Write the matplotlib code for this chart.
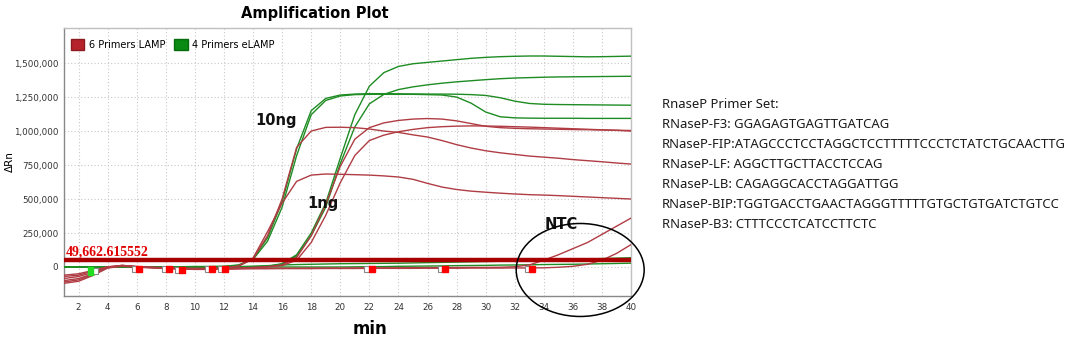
import numpy as np
import matplotlib
matplotlib.use("Agg")
import matplotlib.pyplot as plt
from matplotlib.patches import Patch, Ellipse, Rectangle

# ---------------- data ----------------
minutes = list(range(1, 41))

# 4 Primers eLAMP (green), values in thousands of ΔRn
g_10ng_a = [0, 0, 0, 0, 2, 2, 2, 2, 2, 3, 3, 5, 15, 60, 215, 480, 870, 1150, 1240, 1265,
            1272, 1275, 1275, 1274, 1273, 1272, 1272, 1271, 1268, 1262, 1245, 1220, 1203, 1197, 1195, 1194, 1193, 1192, 1191, 1190]
g_10ng_b = [0, 0, 0, 0, 2, 2, 2, 2, 2, 3, 3, 4, 12, 55, 190, 440, 820, 1120, 1225, 1258,
            1268, 1270, 1270, 1270, 1270, 1268, 1265, 1250, 1205, 1140, 1105, 1097, 1095, 1094, 1094, 1094, 1093, 1093, 1093, 1093]
g_1ng_a = [0, 0, 0, 0, 1, 1, 1, 1, 1, 2, 2, 2, 2, 3, 5, 25, 90, 250, 470, 800,
           1120, 1330, 1430, 1475, 1495, 1505, 1515, 1525, 1535, 1542, 1547, 1550, 1552, 1552, 1550, 1548, 1546, 1547, 1549, 1551]
g_1ng_b = [0, 0, 0, 0, 1, 1, 1, 1, 1, 2, 2, 2, 2, 3, 5, 20, 80, 230, 440, 760,
           1030, 1200, 1270, 1305, 1325, 1340, 1352, 1362, 1370, 1378, 1385, 1390, 1393, 1396, 1398, 1399, 1400, 1401, 1402, 1403]
g_ntc_a = [0, 0, 0, 0, 1, 1, 1, 1, 1, 1, 2, 2, 3, 5, 10, 15, 18, 20, 22, 24,
           25, 26, 27, 28, 30, 32, 34, 36, 38, 40, 42, 45, 48, 50, 53, 56, 59, 62, 65, 68]
g_ntc_b = [0, 0, 0, 0, 0, 0, 0, 0, 0, 0, 0, 0, 0, 0, 0, 0, 0, 0, 0, 0,
           1, 2, 3, 5, 6, 7, 8, 10, 11, 12, 14, 15, 16, 18, 19, 20, 22, 24, 26, 28]

# 6 Primers LAMP (red)
r_10ng_a = [-60, -50, -25, 2, 10, 2, -2, -5, -8, -10, -10, -8, 5, 60, 230, 500, 880, 1000, 1027, 1028,
            1025, 1015, 1000, 990, 972, 956, 930, 900, 875, 855, 840, 828, 816, 808, 800, 790, 782, 774, 765, 757]
r_10ng_b = [-70, -60, -30, 0, 12, 3, -3, -6, -10, -12, -12, -10, 8, 65, 260, 470, 630, 676, 684, 682,
            679, 676, 670, 662, 645, 615, 588, 570, 558, 550, 543, 537, 532, 529, 525, 520, 515, 510, 505, 500]
r_1ng_a = [-85, -70, -40, -3, 12, 3, -3, -8, -12, -14, -14, -12, -8, -3, 3, 15, 70, 230, 460, 740,
           940, 1025, 1060, 1078, 1088, 1092, 1088, 1075, 1055, 1035, 1025, 1020, 1017, 1015, 1013, 1011, 1010, 1008, 1006, 1004]
r_1ng_b = [-100, -85, -50, -5, 10, 2, -4, -8, -12, -15, -15, -13, -10, -5, 0, 10, 50, 180, 380, 620,
           820, 930, 970, 995, 1012, 1025, 1032, 1036, 1038, 1037, 1035, 1032, 1029, 1025, 1021, 1017, 1013, 1009, 1005, 1000]
r_ntc_a = [-110, -95, -55, -5, 8, 0, -5, -10, -14, -17, -17, -15, -12, -10, -10, -9, -9, -8, -8, -8,
           -7, -7, -6, -6, -5, -5, -4, -4, -3, -3, -2, 2, 15, 50, 90, 135, 180, 240, 300, 360]
r_ntc_b = [-120, -105, -62, -8, 6, -2, -6, -11, -15, -18, -18, -16, -14, -13, -13, -12, -12, -12, -11, -11,
           -11, -10, -10, -10, -10, -9, -9, -9, -8, -8, -8, -7, -7, -6, -2, 5, 20, 50, 100, 165]

green_series = [g_10ng_a, g_10ng_b, g_1ng_a, g_1ng_b, g_ntc_a, g_ntc_b]
red_series = [r_10ng_a, r_10ng_b, r_1ng_a, r_1ng_b, r_ntc_a, r_ntc_b]

threshold = 49662.615552
threshold_label = "49,662.615552"

# baseline markers (minutes, thousands)
red_marker_x = [6.15, 8.2, 9.15, 11.15, 12.1, 22.15, 27.2, 33.2]
red_marker_y = [-12, -12, -22, -18, -15, -12, -15, -15]
green_marker_x = [2.85]
green_marker_y = [-30]

y_ticks = [0, 250000, 500000, 750000, 1000000, 1250000, 1500000]
x_ticks = list(range(2, 41, 2))

legend_labels = ["6 Primers LAMP", "4 Primers eLAMP"]
annotations = [("10ng", 15.6, 1080000), ("1ng", 18.8, 470000), ("NTC", 35.2, 310000)]

primer_lines = [
    "RnaseP Primer Set:",
    "RNaseP-F3: GGAGAGTGAGTTGATCAG",
    "RNaseP-FIP:ATAGCCCTCCTAGGCTCCTTTTTCCCTCTATCTGCAACTTG",
    "RNaseP-LF: AGGCTTGCTTACCTCCAG",
    "RNaseP-LB: CAGAGGCACCTAGGATTGG",
    "RNaseP-BIP:TGGTGACCTGAACTAGGGTTTTTGTGCTGTGATCTGTCC",
    "RNaseP-B3: CTTTCCCTCATCCTTCTC",
]

# ---------------- figure ----------------
RED = "#b03c44"
GREEN = "#1e8c23"

fig = plt.figure(figsize=(10.7, 3.39), dpi=100)
ax = fig.add_axes([0.0598, 0.127, 0.530, 0.790])

x = np.array(minutes)
for s in green_series:
    ax.plot(x, np.array(s) * 1000, color=GREEN, lw=1.0, zorder=3)
for s in red_series:
    ax.plot(x, np.array(s) * 1000, color=RED, lw=1.0, zorder=3)

ax.axhline(threshold, color="#a80000", lw=3.2, zorder=4)
ax.text(1.1, threshold + 12000, threshold_label, color="#e00000", fontsize=10,
        family="Liberation Serif", fontweight="bold", va="bottom", ha="left", zorder=5)

# markers
for mx, my in zip(red_marker_x, red_marker_y):
    ax.plot([mx - 0.28], [my * 1000], marker="s", ms=4, mfc="white", mec="#888888", mew=0.8, zorder=5)
    ax.plot([mx], [my * 1000], marker="s", ms=4.5, color="#ff0000", zorder=6)
for mx, my in zip(green_marker_x, green_marker_y):
    ax.plot([mx + 0.25], [my * 1000], marker="s", ms=4, mfc="white", mec="#888888", mew=0.8, zorder=5)
    ax.add_patch(Rectangle((mx - 0.17, my * 1000 - 30000), 0.34, 60000, color="#22dd22", zorder=6))

# annotations
for txt, ax_x, ax_y in annotations:
    ax.text(ax_x, ax_y, txt, fontsize=10.5, fontweight="bold", ha="center", va="center",
            color="#111111", zorder=7)
ax.add_patch(Ellipse((36.5, -22000), 8.8, 684000, fill=False, ec="black", lw=1.1,
                     clip_on=False, zorder=8))

ax.set_xlim(1, 40)
ax.set_ylim(-213000, 1757000)
ax.set_xticks(x_ticks)
ax.set_yticks(y_ticks)
ax.set_yticklabels([f"{v:,}" for v in y_ticks])
ax.tick_params(axis="both", length=0, labelsize=6.3, colors="#333333", pad=4)
ax.tick_params(axis="x", pad=5)
ax.grid(True, linestyle=(0, (1, 2)), color="#c8c8c8", lw=0.8)
for sp in ax.spines.values():
    sp.set_color("#c0c0c0")
    sp.set_linewidth(1.0)
ax.spines["left"].set_color("#888888")
ax.spines["bottom"].set_color("#888888")

ax.set_title("Amplification Plot", fontsize=10.5, fontweight="bold", pad=7, x=0.443)
ax.set_ylabel("ΔRn", fontsize=7.5)
ax.yaxis.set_label_coords(-0.087, 0.5)
ax.set_xlabel("min", fontsize=12, fontweight="bold")
ax.xaxis.set_label_coords(0.54, -0.09)

handles = [Patch(facecolor="#b5222b", edgecolor="#8a1a20"), Patch(facecolor="#0a8a12", edgecolor="#066b0c")]
ax.legend(handles, legend_labels, loc="upper left", bbox_to_anchor=(0.0, 0.985), ncol=2, frameon=False,
          fontsize=7, handlelength=1.4, handleheight=1.4, columnspacing=0.9, handletextpad=0.45,
          borderaxespad=0.3)

# primer text block
y0 = 105
for i, line in enumerate(primer_lines):
    fig.text(662 / 1070, 1 - (y0 + 20 * i) / 339, line, fontsize=9.4, family="Noto Sans",
             color="#1a1a1a", va="center", ha="left")

fig.savefig("out.png", dpi=100)
